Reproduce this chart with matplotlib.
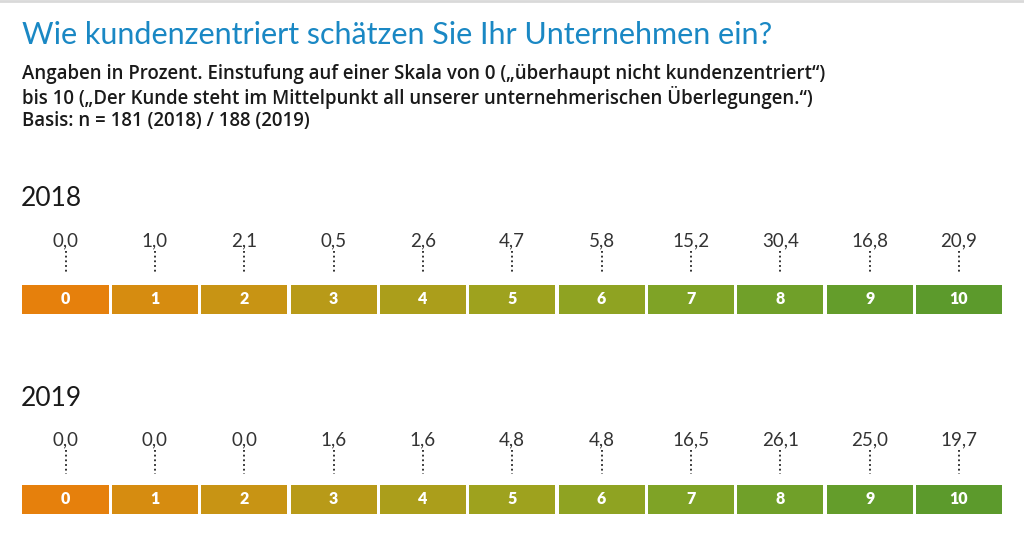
import matplotlib.pyplot as plt

# data
scale = [0, 1, 2, 3, 4, 5, 6, 7, 8, 9, 10]
vals_2018 = [0.0, 1.0, 2.1, 0.5, 2.6, 4.7, 5.8, 15.2, 30.4, 16.8, 20.9]
vals_2019 = [0.0, 0.0, 0.0, 1.6, 1.6, 4.8, 4.8, 16.5, 26.1, 25.0, 19.7]
years = ['2018', '2019']
cell_colors = ['#e6800c', '#d68c10', '#c89414', '#b89a18', '#ab9e1b', '#9ea21e',
               '#8fa322', '#7fa326', '#70a029', '#649d2b', '#5c9a2c']

plt.rcParams['font.family'] = ['Lato', 'DejaVu Sans']

fig = plt.figure(figsize=(10.24, 5.4), dpi=100)
ax = fig.add_axes([0, 0, 1, 1])
# x in scale units, y in pixels from the top
pitch = (959 - 65.5) / 10
ax.set_xlim(-65.5 / pitch, (1024 - 65.5) / pitch)
ax.set_ylim(540, 0)
ax.axis('off')

ax.axhline(1, color='#d9d9d9', lw=2)

fig.text(22 / 1024, 1 - 35 / 540, 'Wie kundenzentriert schätzen Sie Ihr Unternehmen ein?',
         color='#1a88c4', fontsize=22, va='center', ha='left')
sub = ('Angaben in Prozent. Einstufung auf einer Skala von 0 („überhaupt nicht kundenzentriert“)\n'
       'bis 10 („Der Kunde steht im Mittelpunkt all unserer unternehmerischen Überlegungen.“)\n'
       'Basis: n = 181 (2018) / 188 (2019)')
fig.text(22 / 1024, 1 - 64 / 540, sub, color='#1a1a1a', fontsize=13.4, fontweight='semibold',
         family=['Open Sans', 'DejaVu Sans'], va='top', ha='left', linespacing=1.13)

rows = [(vals_2018, 199, 241, 285), (vals_2019, 398, 440, 485)]
for (vals, y_year, y_val, y_cell), yr in zip(rows, years):
    ax.text(-0.5 + (22 - 65.5 + 43) / pitch, y_year, yr, fontsize=19, color='#1a1a1a',
            va='center', ha='left')
    ax.bar(scale, 29, bottom=y_cell, width=0.963, color=cell_colors, align='center')
    for x, v in zip(scale, vals):
        ax.text(x, y_val, f'{v:.1f}'.replace('.', ','), fontsize=13.5, color='#333333',
                ha='center', va='center')
        ax.vlines(x, y_val + 10, y_cell - 11, colors='#222222', linestyles=(0, (1, 1.6)), lw=1.3)
        ax.text(x, y_cell + 14.5, str(x), fontsize=11.5, color='white', fontweight='heavy',
                ha='center', va='center')

fig.savefig('out.png', dpi=100)
